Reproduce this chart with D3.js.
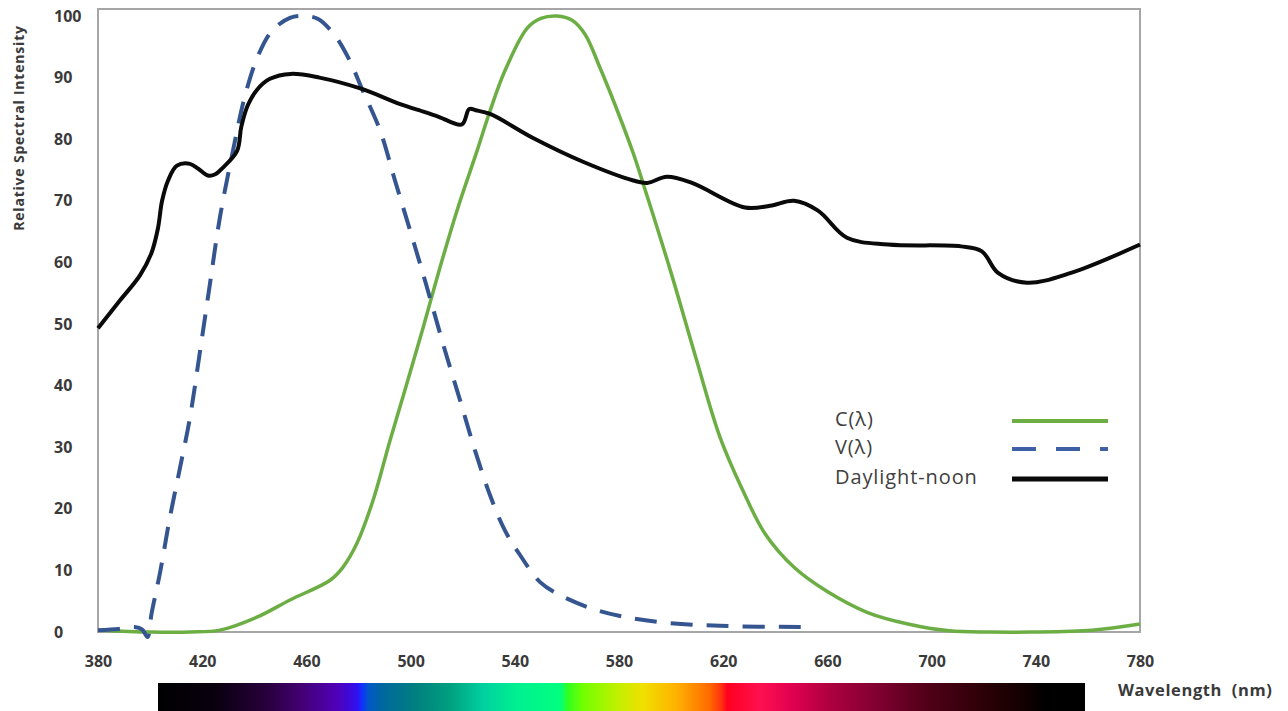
<!DOCTYPE html>
<html>
<head>
<meta charset="utf-8">
<script src="https://cdn.jsdelivr.net/npm/d3@7"></script>
<style>
  body { margin: 0; background: #fff; }
  svg { display: block; }
</style>
</head>
<body>
<svg id="chart" width="1288" height="711"></svg>
<script>
// values (wavelength in nm, relative intensity)
const xTicks = [380, 420, 460, 500, 540, 580, 620, 660, 700, 740, 780];
const yTicks = [0, 10, 20, 30, 40, 50, 60, 70, 80, 90, 100];

const daylightNm = [380, 388.4, 396.1, 400.5, 403, 404.6, 406.9, 410.3, 415.3, 418.5, 422.2, 425, 428, 433.4, 435, 437.5, 441, 446, 454, 465, 481, 496, 505.5, 511, 519.7, 522.5, 525, 530.5, 547, 566.4, 585.5, 590.8, 598.4, 608, 628.4, 638, 647.2, 656.4, 667.5, 683.3, 711.3, 719.3, 725.5, 736.6, 753.5, 780];
const daylightVal = [49.3, 53.8, 57.9, 61.5, 65.5, 70, 73.3, 75.7, 76.0, 75.2, 74.1, 74.3, 75.4, 78.1, 82, 85.5, 88, 89.8, 90.6, 90, 88.2, 85.7, 84.4, 83.6, 82.4, 84.9, 84.7, 84.1, 80.2, 76.3, 73.3, 72.9, 73.9, 72.9, 68.9, 69.2, 70.0, 68.4, 64.0, 62.9, 62.6, 61.8, 58.3, 56.7, 58.3, 62.9];

const vNm = [380, 388, 394, 397, 399, 400.6, 403.8, 407.6, 411.5, 415.3, 419.2, 423, 426.8, 431.8, 436.4, 441.4, 446.8, 453.7, 459.5, 464.5, 471, 476.7, 481.3, 488.3, 494, 499.8, 505.5, 513.2, 519, 524.7, 530.5, 536.2, 542, 549.7, 557.3, 568.9, 580.4, 595.7, 618.8, 653.3];
const vVal = [0.3, 0.5, 0.8, 0.4, -0.8, 3.1, 9.6, 18.6, 26.7, 34.8, 45.7, 56.6, 67.3, 78.1, 87.0, 93.5, 97.6, 99.7, 100, 99.5, 96.8, 92.7, 88.2, 81.4, 73.3, 65.2, 57.1, 45.7, 37.6, 29.5, 22.2, 16.5, 12.5, 8.1, 6.0, 3.9, 2.6, 1.6, 1.0, 0.8];

const cNm = [380, 400, 415.3, 426.8, 441, 453.7, 469.1, 474, 479.4, 485.6, 492.1, 498.6, 504.8, 511.3, 517.8, 525.5, 530.5, 536.2, 544.7, 550, 556.2, 562, 567, 572.7, 578.1, 585.4, 589.2, 600, 609.6, 618.8, 628.4, 636, 647.2, 659.8, 675.2, 690.9, 706.7, 722.4, 738.2, 761.6, 780];
const cVal = [0.3, 0, 0, 0.3, 2.4, 5.2, 8.4, 10.5, 14.4, 21.4, 31.1, 40.4, 49.4, 59.2, 68.4, 78.1, 84.6, 91.1, 98.0, 99.6, 100, 99.3, 97.0, 91.6, 86.0, 77.8, 72.9, 58.3, 44.4, 31.6, 22.2, 16.0, 10.5, 6.6, 3.2, 1.3, 0.2, 0, 0, 0.3, 1.3];

const legendLabels = ["C(\u03bb)", "V(\u03bb)", "Daylight-noon"];

const svg = d3.select("#chart");
const plot = { left: 98, right: 1140, top: 9, bottom: 632 };

const x = d3.scaleLinear().domain([380, 780]).range([plot.left, plot.right]);
const y = d3.scaleLinear().domain([0, 100]).range([plot.bottom, 16]);

// spectrum strip under the axis
const spectrumStops = [
  [0, "#000000"], [0.064, "#0a0010"], [0.118, "#28003c"], [0.153, "#420070"],
  [0.193, "#5000b8"], [0.215, "#3010f0"], [0.22, "#1030ff"], [0.227, "#0058c8"],
  [0.243, "#00689c"], [0.279, "#00807f"], [0.315, "#00a080"], [0.351, "#00d0a0"],
  [0.387, "#00f090"], [0.434, "#00ff80"], [0.442, "#30ff20"], [0.458, "#70ff00"],
  [0.495, "#c0f000"], [0.523, "#f0e000"], [0.56, "#ffb000"], [0.595, "#ff6a00"],
  [0.608, "#ff3010"], [0.614, "#ff0020"], [0.649, "#ff1050"], [0.685, "#e00050"],
  [0.722, "#b00040"], [0.776, "#800030"], [0.83, "#500018"], [0.883, "#300008"],
  [0.937, "#100000"], [0.957, "#000000"], [1, "#000000"]
];
const grad = svg.append("defs").append("linearGradient").attr("id", "spectrum");
grad.selectAll("stop").data(spectrumStops).enter().append("stop")
  .attr("offset", d => d[0]).attr("stop-color", d => d[1]);
svg.append("rect")
  .attr("x", 158).attr("y", 683).attr("width", 927).attr("height", 28)
  .attr("fill", "url(#spectrum)");

// frame
svg.append("rect")
  .attr("x", plot.left).attr("y", plot.top)
  .attr("width", plot.right - plot.left).attr("height", plot.bottom - plot.top)
  .attr("fill", "none").attr("stroke", "#a6a6a6").attr("stroke-width", 2);

// axes
const yAxis = svg.append("g")
  .attr("transform", `translate(${plot.left},0)`)
  .call(d3.axisLeft(y).tickValues(yTicks).tickSize(0));
yAxis.select(".domain").remove();
yAxis.selectAll("text")
  .attr("x", -44).attr("text-anchor", "start")
  .attr("font-family", "Open Sans").attr("font-weight", 700)
  .attr("font-size", 16).attr("fill", "#3a3a3a");

const xAxis = svg.append("g")
  .attr("transform", `translate(0,${plot.bottom})`)
  .call(d3.axisBottom(x).tickValues(xTicks).tickSize(0).tickPadding(24));
xAxis.select(".domain").remove();
xAxis.selectAll("text")
  .attr("font-family", "Open Sans").attr("font-weight", 700)
  .attr("font-size", 16).attr("fill", "#3a3a3a");

svg.append("text")
  .attr("transform", "translate(24,128) rotate(-90)")
  .attr("text-anchor", "middle")
  .attr("font-family", "Open Sans").attr("font-weight", 700)
  .attr("font-size", 14).attr("letter-spacing", 0.8).attr("fill", "#3a3a3a")
  .text("Relative Spectral Intensity");

svg.append("text")
  .attr("x", 1118).attr("y", 696)
  .attr("font-family", "Open Sans").attr("font-weight", 700)
  .attr("font-size", 16.5).attr("letter-spacing", 0.6).attr("fill", "#3a3a3a")
  .attr("xml:space", "preserve")
  .text("Wavelength  (nm)");

// curves
const line = d3.line()
  .x(d => x(d[0]))
  .y(d => y(d[1]))
  .curve(d3.curveCatmullRom.alpha(0.5));

svg.append("path")
  .datum(d3.zip(cNm, cVal))
  .attr("d", line)
  .attr("fill", "none").attr("stroke", "#6cae44").attr("stroke-width", 3.5);

svg.append("path")
  .datum(d3.zip(vNm, vVal))
  .attr("d", line)
  .attr("fill", "none").attr("stroke", "#34558f").attr("stroke-width", 4)
  .attr("stroke-dasharray", "22,14");

svg.append("path")
  .datum(d3.zip(daylightNm, daylightVal))
  .attr("d", line)
  .attr("fill", "none").attr("stroke", "#0a0a0a").attr("stroke-width", 4);

// legend
const legendStyles = [
  { color: "#6cae44", width: 4, dash: null },
  { color: "#3d5fa5", width: 4, dash: "24,20" },
  { color: "#0a0a0a", width: 5, dash: null }
];
const legendRows = [421, 449, 479];
const legend = svg.append("g");
legendLabels.forEach((label, i) => {
  legend.append("text")
    .attr("x", 835).attr("y", legendRows[i])
    .attr("dominant-baseline", "middle")
    .attr("font-family", "Open Sans").attr("font-size", 20)
    .attr("letter-spacing", 0.9)
    .attr("fill", "#404040")
    .text(label);
  legend.append("line")
    .attr("x1", 1012).attr("x2", 1108)
    .attr("y1", legendRows[i]).attr("y2", legendRows[i])
    .attr("stroke", legendStyles[i].color)
    .attr("stroke-width", legendStyles[i].width)
    .attr("stroke-dasharray", legendStyles[i].dash);
});
</script>
</body>
</html>
